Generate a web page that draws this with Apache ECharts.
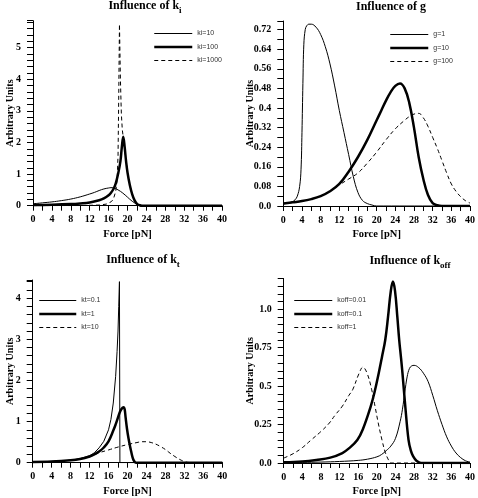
<!DOCTYPE html>
<html>
<head>
<meta charset="utf-8">
<script src="https://cdn.jsdelivr.net/npm/echarts@6/dist/echarts.min.js"></script>
<style>
html,body{margin:0;padding:0;background:#fff;}
#chart{width:478px;height:498px;}
</style>
</head>
<body>
<div id="chart"></div>
<script>
// ---------- Data ----------
// Panel 1: Influence of ki
const ki10_x = [0,2,4,6,8,10,12,13,14,15,16,16.5,17,18,19,20,21,22,23,24,40];
const ki10_y = [0.06,0.09,0.12,0.16,0.21,0.28,0.37,0.42,0.48,0.53,0.56,0.57,0.565,0.5,0.4,0.27,0.14,0.05,0.01,0,0];
const ki100_x = [0,4,8,10,12,14,15,16,16.5,17,17.5,18,18.5,18.8,19.1,19.4,19.7,20,20.5,21,21.5,22,22.5,23,40];
const ki100_y = [0.02,0.03,0.05,0.07,0.1,0.17,0.23,0.33,0.41,0.52,0.7,1.0,1.4,1.85,2.18,1.85,1.4,1.05,0.65,0.36,0.17,0.06,0.02,0,0];
const ki1000_x = [0,10,14,15.5,16.5,17,17.5,17.8,18.0,18.15,18.3,18.5,18.7,18.9,19.2,19.5,20,20.5,21,21.5,22,22.5,23,40];
const ki1000_y = [0,0.005,0.02,0.05,0.12,0.2,0.45,0.8,1.6,3.5,5.74,4.0,2.9,2.4,2.05,1.7,1.05,0.65,0.36,0.17,0.06,0.02,0,0];

// Panel 2: Influence of g
const g1_x = [0,1,2,2.5,3,3.5,3.8,4.0,4.2,4.4,4.7,5.0,5.5,6,7,8,9,10,11,12,13,14,15,16,17,18,19,20,40];
const g1_y = [0.008,0.012,0.018,0.025,0.04,0.08,0.15,0.3,0.5,0.66,0.72,0.735,0.742,0.742,0.73,0.7,0.65,0.58,0.49,0.39,0.3,0.21,0.12,0.055,0.022,0.01,0.004,0,0];
const g10_x = [0,2,4,6,8,10,12,14,16,18,20,21,22,23,24,25,26,27,28,29,30,31,32,33,34,40];
const g10_y = [0.01,0.015,0.02,0.028,0.04,0.06,0.09,0.14,0.2,0.27,0.35,0.39,0.43,0.465,0.49,0.5,0.48,0.42,0.32,0.2,0.11,0.045,0.012,0.003,0,0];
const g100_x = [0,4,8,10,12,14,16,18,20,22,24,26,27,28,29,30,31,32,33,34,35,36,37,38,39,40];
const g100_y = [0.01,0.02,0.04,0.06,0.086,0.11,0.135,0.175,0.22,0.27,0.315,0.35,0.365,0.375,0.378,0.36,0.325,0.28,0.235,0.185,0.135,0.09,0.06,0.038,0.022,0.012];

// Panel 3: Influence of kt
const kt01_x = [0,4,8,10,12,13,14,15,16,16.5,17,17.5,17.8,18.0,18.15,18.3,18.4,19,40];
const kt01_y = [0.02,0.03,0.06,0.1,0.17,0.24,0.36,0.52,0.8,1.05,1.45,2.1,2.7,3.2,3.8,4.4,0,0,0];
const kt1_x = [0,4,8,10,12,13,14,15,16,17,17.5,18,18.5,19,19.2,19.4,19.6,19.9,20.2,20.5,20.8,21.1,21.4,21.8,40];
const kt1_y = [0.02,0.03,0.06,0.09,0.15,0.2,0.27,0.37,0.52,0.78,0.93,1.1,1.26,1.34,1.35,1.3,1.1,0.82,0.6,0.42,0.26,0.12,0.04,0,0];
const kt10_x = [0,4,8,10,12,14,16,18,20,22,23,24,25,26,27,28,29,30,31,32,33,40];
const kt10_y = [0.02,0.03,0.06,0.09,0.14,0.24,0.31,0.38,0.44,0.49,0.51,0.51,0.49,0.45,0.39,0.32,0.23,0.15,0.08,0.03,0.005,0];

// Panel 4: Influence of koff
const koff001_x = [0,4,8,12,16,18,20,21,22,23,24,25,25.5,26,26.5,27,27.5,28,29,30,31,32,33,34,35,36,37,38,39,40];
const koff001_y = [0.002,0.004,0.006,0.01,0.017,0.025,0.04,0.055,0.08,0.11,0.16,0.27,0.35,0.46,0.56,0.615,0.632,0.635,0.62,0.584,0.53,0.44,0.34,0.25,0.17,0.11,0.065,0.035,0.015,0.005];
const koff01_x = [0,4,7,10,12.6,14,15.8,17,18.7,19.5,20.4,21.1,21.8,22.4,23,23.45,23.9,24.4,24.8,25.2,25.5,26.1,26.8,27.3,27.8,28.5,29.5,40];
const koff01_y = [0.005,0.01,0.02,0.035,0.065,0.095,0.15,0.22,0.37,0.46,0.584,0.69,0.8,0.95,1.12,1.18,1.12,0.95,0.8,0.68,0.584,0.37,0.15,0.08,0.043,0.015,0,0];
const koff1_x = [0,2,4,5.9,8,9.8,11,12.6,14,14.8,16.2,17,17.9,18.9,19.6,20.3,21.1,21.8,22.5,23,40];
const koff1_y = [0.032,0.06,0.1,0.15,0.205,0.26,0.31,0.37,0.44,0.476,0.584,0.623,0.584,0.476,0.37,0.26,0.15,0.07,0.02,0,0];

const xTickLabels = [0,4,8,12,16,20,24,28,32,36,40];

// ---------- Styles ----------
const SERIF = '"Liberation Serif","Times New Roman",serif';
const SANS = '"Liberation Sans",Arial,sans-serif';

function zip(xs, ys){ return xs.map((x,i)=>[x, ys[i]]); }
function isMult(v, step){ const r = v/step; return Math.abs(r-Math.round(r)) < 1e-6; }

const grids = [
  {left:33, top:20.7, width:189, height:185},
  {left:283.3, top:21, width:189, height:185},
  {left:32.7, top:280, width:189.6, height:182.7},
  {left:283.7, top:278.5, width:188.6, height:184.8}
];

function xAxis(gi){
  return {
    type:'value', gridIndex:gi, min:0, max:40, interval:2,
    axisLine:{show:true, onZero:false, lineStyle:{color:'#000', width:1}},
    axisTick:{show:true, length:5, lineStyle:{color:'#000', width:1}},
    axisLabel:{color:'#000', fontFamily:SERIF, fontWeight:'bold', fontSize:10, margin:9,
      formatter:v => (xTickLabels.indexOf(Math.round(v*1000)/1000) >= 0 ? String(v) : '')},
    splitLine:{show:false},
    name:'Force [pN]', nameLocation:'middle', nameGap:23, nameMoveOverlap:false,
    nameTextStyle:{color:'#000', fontFamily:SERIF, fontWeight:'bold', fontSize:10.5}
  };
}
function yAxis(gi, max, step, labelStep, fmt, gap){
  return {
    type:'value', gridIndex:gi, min:0, max:max, interval:step,
    axisLine:{show:true, onZero:false, lineStyle:{color:'#000', width:1}},
    axisTick:{show:true, length:6, lineStyle:{color:'#000', width:1}},
    axisLabel:{color:'#000', fontFamily:SERIF, fontWeight:'bold', fontSize:10, margin:12,
      formatter:v => (isMult(v, labelStep) ? fmt(v) : '')},
    splitLine:{show:false},
    name:'Arbitrary Units', nameLocation:'middle', nameGap:gap, nameMoveOverlap:false,
    nameTextStyle:{color:'#000', fontFamily:SERIF, fontWeight:'bold', fontSize:10}
  };
}

const fmtInt = v => String(Math.round(v));
const fmtG = v => (v === 0 ? '0.0' : String(+v.toFixed(2)));
const fmtK = v => (v === 0 ? '0.0' : (Math.abs(v-1) < 1e-9 ? '1.0' : String(+v.toFixed(2))));

function line(name, xs, ys, gi, kind){
  const style = {color:'#000', width: kind==='thick' ? 2.5 : 1, type: kind==='dash' ? [4,3] : 'solid'};
  return {
    name, type:'line', xAxisIndex:gi, yAxisIndex:gi, data: zip(xs, ys),
    showSymbol:false, symbol:'none', smooth:0.4,
    lineStyle:style, itemStyle:{color:'#000'}, animation:false, z: kind==='thick'?3:2
  };
}

function title(text, sub, cx, top){
  const t = sub ? '{m|' + text + '}{s|' + sub + '}' : '{m|' + text + '}';
  return {
    text:t, left:cx, top:top, textAlign:'center', padding:0,
    textStyle:{ rich:{
      m:{fontFamily:SERIF, fontWeight:'bold', fontSize:12, color:'#000', lineHeight:14, verticalAlign:'middle'},
      s:{fontFamily:SERIF, fontWeight:'bold', fontSize:9, color:'#000', lineHeight:19, verticalAlign:'bottom'}
    }}
  };
}

function legend(names, left, top, w){
  return {
    data:names, orient:'vertical', left:left, top:top, padding:0,
    itemWidth:w, itemHeight:8, itemGap:6.5,
    itemStyle:{opacity:0},
    lineStyle:{width:'inherit'},
    textStyle:{fontFamily:SANS, fontSize:7, color:'#333'},
    selectedMode:false
  };
}

const option = {
  animation:false,
  backgroundColor:'#fff',
  title:[
    title('Influence of k','i',145,-4),
    title('Influence of g',null,391,0),
    title('Influence of k','t',143,250),
    title('Influence of k','off',410,251.5)
  ],
  legend:[
    legend(['ki=10','ki=100','ki=1000'],153,30,38),
    legend(['g=1','g=10','g=100'],389,31,38),
    legend(['kt=0.1','kt=1','kt=10'],38,297,37),
    legend(['koff=0.01','koff=0.1','koff=1'],293,297,38)
  ],
  grid:grids,
  xAxis:[xAxis(0), xAxis(1), xAxis(2), xAxis(3)],
  yAxis:[
    yAxis(0, 5.85, 0.2, 1, fmtInt, 17.5),
    yAxis(1, 0.755, 0.04, 0.08, fmtG, 27.5),
    yAxis(2, 4.44, 0.2, 1, fmtInt, 17),
    yAxis(3, 1.2, 0.05, 0.25, fmtK, 28)
  ],
  series:[
    line('ki=10', ki10_x, ki10_y, 0, 'thin'),
    line('ki=100', ki100_x, ki100_y, 0, 'thick'),
    Object.assign(line('ki=1000', ki1000_x, ki1000_y, 0, 'dash'), {smooth:false}),
    line('g=1', g1_x, g1_y, 1, 'thin'),
    line('g=10', g10_x, g10_y, 1, 'thick'),
    line('g=100', g100_x, g100_y, 1, 'dash'),
    Object.assign(line('kt=0.1', kt01_x, kt01_y, 2, 'thin'), {smooth:false}),
    line('kt=1', kt1_x, kt1_y, 2, 'thick'),
    line('kt=10', kt10_x, kt10_y, 2, 'dash'),
    line('koff=0.01', koff001_x, koff001_y, 3, 'thin'),
    line('koff=0.1', koff01_x, koff01_y, 3, 'thick'),
    line('koff=1', koff1_x, koff1_y, 3, 'dash')
  ]
};

const chart = echarts.init(document.getElementById('chart'), null, {renderer:'canvas'});
chart.setOption(option);
</script>
</body>
</html>
